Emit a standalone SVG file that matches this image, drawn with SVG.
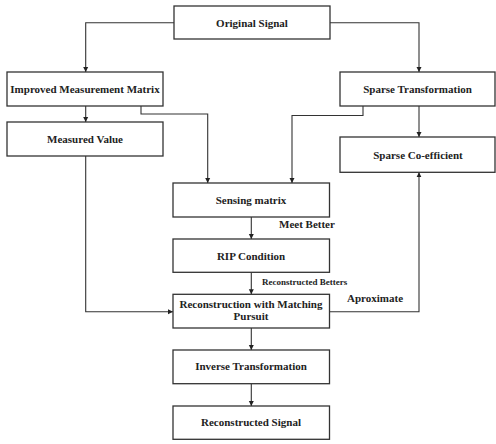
<svg xmlns="http://www.w3.org/2000/svg" width="496" height="444" viewBox="0 0 496 444">
<style>
.box{fill:#fff;stroke:#333;stroke-width:1.3}
.t{font-family:"Liberation Serif","Times New Roman",serif;font-weight:bold;font-size:11px;fill:#222;text-anchor:middle}
.l{font-family:"Liberation Serif","Times New Roman",serif;font-weight:bold;font-size:11px;fill:#222}
.s{font-size:9px}
.c{fill:none;stroke:#333;stroke-width:1.1;marker-end:url(#a)}
</style>
<defs>
<marker id="a" markerWidth="6" markerHeight="6" refX="5" refY="3" orient="auto" markerUnits="userSpaceOnUse">
<path d="M0,0.5 L5,3 L0,5.5 Z" fill="#222"/>
</marker>
</defs>
<rect width="496" height="444" fill="#fff"/>
<g id="connectors">
<path class="c" d="M174,22.7 H85.7 V72"/>
<path class="c" d="M330,22.7 H419 V72"/>
<path class="c" d="M85.7,106 V122"/>
<path class="c" d="M141,106 V114 H207.7 V183"/>
<path class="c" d="M363,106 V115.5 H292 V183"/>
<path class="c" d="M419,106 V137"/>
<path class="c" d="M251.3,217 V239"/>
<path class="c" d="M251.3,272.3 V294.3"/>
<path class="c" d="M85.7,156 V311.7 H173"/>
<path class="c" d="M329.5,311.7 H419 V172.3"/>
<path class="c" d="M251.3,328 V350"/>
<path class="c" d="M251.3,383.7 V406"/>
</g>
<g id="original-signal"><rect class="box" x="174" y="6" width="156" height="33"/><text class="t" x="252" y="26.5">Original Signal</text></g>
<g id="improved-measurement-matrix"><rect class="box" x="7" y="72" width="156" height="34"/><text class="t" x="85" y="93">Improved Measurement Matrix</text></g>
<g id="sparse-transformation"><rect class="box" x="340" y="72" width="155" height="34"/><text class="t" x="417.5" y="93">Sparse Transformation</text></g>
<g id="measured-value"><rect class="box" x="7" y="122" width="156" height="34"/><text class="t" x="85" y="142.5">Measured Value</text></g>
<g id="sparse-coefficient"><rect class="box" x="340" y="137" width="155" height="35.3"/><text class="t" x="418" y="158.5">Sparse Co-efficient</text></g>
<g id="sensing-matrix"><rect class="box" x="173" y="183" width="156.5" height="34"/><text class="t" x="251" y="203.5">Sensing matrix</text></g>
<g id="rip-condition"><rect class="box" x="173" y="239" width="156.5" height="33.3"/><text class="t" x="251" y="259.5">RIP Condition</text></g>
<g id="reconstruction"><rect class="box" x="173" y="294.3" width="156.5" height="33.7"/><text class="t" x="251" y="307.8">Reconstruction with Matching</text><text class="t" x="251" y="320.3">Pursuit</text></g>
<g id="inverse-transformation"><rect class="box" x="173" y="350" width="156.5" height="33.7"/><text class="t" x="251" y="370">Inverse Transformation</text></g>
<g id="reconstructed-signal"><rect class="box" x="173" y="406" width="156.5" height="33.3"/><text class="t" x="251" y="426">Reconstructed Signal</text></g>
<g id="labels">
<text class="l" x="279" y="227.5">Meet Better</text>
<text class="l s" x="262" y="284.5">Reconstructed Betters</text>
<text class="l" x="347" y="302">Aproximate</text>
</g>
</svg>
